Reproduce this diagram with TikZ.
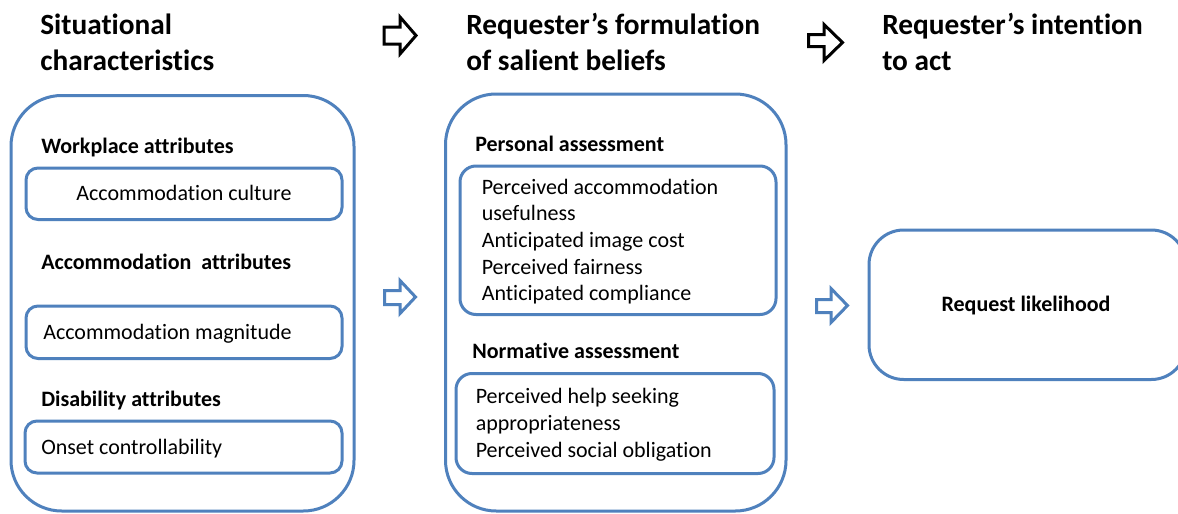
\documentclass[tikz,border=0pt]{standalone}
\usepackage{fontspec}
\setmainfont{Carlito}[Ligatures={NoCommon}]
\definecolor{boxblue}{HTML}{4F81BD}
\tikzset{
  box/.style={draw=boxblue, line width=2.25pt, inner sep=0pt, outer sep=0pt},
  txt/.style={inner sep=0pt, anchor=base west, font=\fontsize{16.5}{20}\selectfont},
  hdr/.style={txt, font=\fontsize{16.5}{20}\selectfont\bfseries},
  ttl/.style={txt, font=\fontsize{22}{27}\selectfont\bfseries},
  blackarrow/.style={draw=black, line width=2.25pt, line join=miter, fill=white},
  bluearrow/.style={draw=boxblue, line width=2.25pt, line join=miter, fill=white},
}
\newcommand{\bx}[6]{%
  \node[box, rounded corners=#6, minimum width={(#4-#2)*0.75pt}, minimum height={(#5-#3)*0.75pt}] (#1) at ({(#2+#4)/2},{(#3+#5)/2}) {};}
\begin{document}
\begin{tikzpicture}[x=0.75pt, y=-0.75pt]
\clip (0,0) rectangle (1178,514);
\fill[white] (0,0) rectangle (1178,514);
% titles
\node[ttl] (t1a) at (40,34) {Situational};
\node[ttl] (t1b) at (40,70) {characteristics};
\node[ttl] (t2a) at (466,34) {Requester’s formulation};
\node[ttl] (t2b) at (466,70) {of salient beliefs};
\node[ttl] (t3a) at (882,34) {Requester’s intention};
\node[ttl] (t3b) at (882,70) {to act};
% black arrows
\draw[blackarrow] (384,27) -- (400,27) -- (400,17) -- (416,35.5) -- (400,54) -- (400,44) -- (384,44) -- cycle;
\draw[blackarrow] (808.5,34.5) -- (824,34.5) -- (824,24.5) -- (842.5,42.5) -- (824,60.5) -- (824,46.5) -- (808.5,46.5) -- cycle;
% outer boxes
\bx{sit}{11}{95.5}{354}{511}{38pt}
\bx{bel}{445.5}{94}{786}{511}{38pt}
\bx{req}{869}{230}{1186}{379.5}{26pt}
% situational
\node[hdr] (h1) at (41,153) {Workplace attributes};
\bx{b1}{26}{168}{342}{219.5}{9pt}
\node[txt, anchor=base] (c1) at (184,200) {Accommodation culture};
\node[hdr] (h2) at (41,269) {Accommodation\ \ attributes};
\bx{b2}{26}{306}{342}{358.5}{9pt}
\node[txt] (c2) at (43,339) {Accommodation magnitude};
\node[hdr] (h3) at (41,406) {Disability attributes};
\bx{b3}{25}{421}{342}{473}{9pt}
\node[txt] (c3) at (41,454) {Onset controllability};
% beliefs
\node[hdr] (h4) at (475,151) {Personal assessment};
\bx{pbox}{460}{166}{776}{314.5}{12pt}
\node[txt] (p1) at (481.5,194) {Perceived accommodation};
\node[txt] (p2) at (481.5,220.7) {usefulness};
\node[txt] (p3) at (481.5,247.4) {Anticipated image cost};
\node[txt] (p4) at (481.5,274.1) {Perceived fairness};
\node[txt] (p5) at (481.5,300.8) {Anticipated compliance};
\node[hdr] (h5) at (472,358.5) {Normative assessment};
\bx{nbox}{456}{373.5}{774}{473.5}{12pt}
\node[txt] (n1) at (475.5,403.8) {Perceived help seeking};
\node[txt] (n2) at (475.5,430.5) {appropriateness};
\node[txt] (n3) at (475.5,457.2) {Perceived social obligation};
% request
\node[hdr, anchor=base] (rl) at (1026,311) {Request likelihood};
% blue arrows
\draw[bluearrow] (384.5,290.5) -- (400,290.5) -- (400,280.5) -- (415.5,297) -- (400,313.5) -- (400,304.5) -- (384.5,304.5) -- cycle;
\draw[bluearrow] (816.5,299.5) -- (831,299.5) -- (831,288.5) -- (847.5,305.5) -- (831,322.5) -- (831,312.5) -- (816.5,312.5) -- cycle;
\end{tikzpicture}
\end{document}
